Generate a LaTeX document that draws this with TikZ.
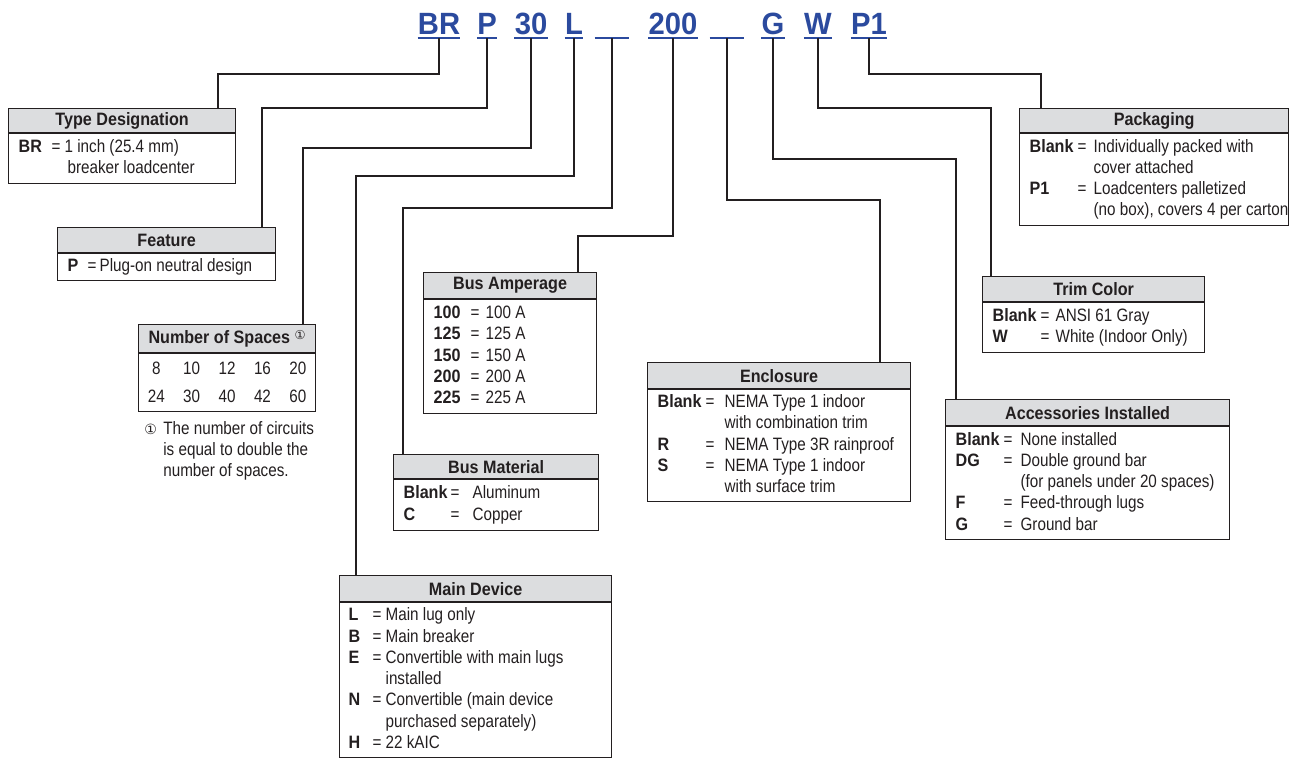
\documentclass[tikz,border=0pt]{standalone}
\usepackage{fontspec}
\setmainfont{Liberation Sans}[FakeStretch=0.85, BoldFeatures={FakeStretch=0.90}]
\newfontfamily\codefont{Liberation Sans}[FakeStretch=0.95]
\newfontfamily\symfont{DejaVu Sans}
\usepackage{array}
\definecolor{codeblue}{HTML}{2B4A9E}
\definecolor{headgray}{HTML}{DCDDDF}
\definecolor{ink}{HTML}{231F20}
\newcommand{\optlist}[3]{{\spaceskip=0pt\xspaceskip=0pt\setlength{\tabcolsep}{0pt}\begin{tabular}{@{}>{\bfseries}p{#1}@{}p{#2}@{}l@{}}#3\end{tabular}}}
\begin{document}
\begin{tikzpicture}[
  font=\fontsize{10.2}{12.1}\selectfont, text=ink,
  code/.style={font=\codefont\fontsize{17.5}{20}\selectfont\bfseries, text=codeblue, inner xsep=0pt, inner ysep=0.06cm, text depth=0pt, anchor=south},
  uline/.style={draw=codeblue, line width=1.1pt},
  lead/.style={draw=ink, line width=1.1pt},
  head/.style={draw=ink, line width=0.7pt, fill=headgray, anchor=north west, inner sep=0pt, font=\fontsize{10.2}{12.1}\selectfont\bfseries},
  body/.style={draw=ink, line width=0.7pt, anchor=north west, inner xsep=0.2cm, inner ysep=0pt, align=left}
]
                        \useasboundingbox (0,0) rectangle (25.960000,15.160000);
                        
                        % Marking the catalog code letters
                        \node (cBR) at (8.780000,14.400000) [code] {BR};%
                        \node (cP) at (9.740000,14.400000) [code] {P};%
                        \node (c30) at (10.620000,14.400000) [code] {30};%
                        \node (cL) at (11.480000,14.400000) [code] {L};%
                        \node (cBlankA) at (12.240000,14.400000) [code, minimum width=0.68cm] {};%
                        \node (c200) at (13.460000,14.400000) [code] {200};%
                        \node (cBlankB) at (14.540000,14.400000) [code, minimum width=0.68cm] {};%
                        \node (cG) at (15.460000,14.400000) [code] {G};%
                        \node (cW) at (16.360000,14.400000) [code] {W};%
                        \node (cP1) at (17.380000,14.400000) [code] {P1};%
                        
                        % Underlining the code letters
                        \draw [uline] (cBR.south west) -- (cBR.south east);%
                        \draw [uline] (cP.south west) -- (cP.south east);%
                        \draw [uline] (c30.south west) -- (c30.south east);%
                        \draw [uline] (cL.south west) -- (cL.south east);%
                        \draw [uline] (cBlankA.south west) -- (cBlankA.south east);%
                        \draw [uline] (c200.south west) -- (c200.south east);%
                        \draw [uline] (cBlankB.south west) -- (cBlankB.south east);%
                        \draw [uline] (cG.south west) -- (cG.south east);%
                        \draw [uline] (cW.south west) -- (cW.south east);%
                        \draw [uline] (cP1.south west) -- (cP1.south east);%
                        
                        % Drawing box Type Designation
                        \node (tdhead) at (0.160000,13.000000) [head, minimum width=4.54cm, minimum height=0.48cm] {Type Designation};%
                        \node (tdbody) at (tdhead.south west) [body, text width=4.14cm, minimum height=1.00cm] {\optlist{0.66cm}{0.26cm}{BR & = & 1 inch (25.4 mm)\\ & & \hspace{0.06cm}breaker loadcenter}};%
                        
                        % Drawing box Feature
                        \node (fthead) at (1.140000,10.620000) [head, minimum width=4.36cm, minimum height=0.50cm] {Feature};%
                        \node (ftbody) at (fthead.south west) [body, text width=3.96cm, minimum height=0.54cm] {\optlist{0.40cm}{0.24cm}{P & = & Plug-on neutral design}};%
                        
                        % Drawing box Number of Spaces
                        \node (nshead) at (2.760000,8.680000) [head, minimum width=3.54cm, minimum height=0.56cm] {Number of Spaces \raisebox{0.35ex}{\symfont\mdseries\fontsize{7}{8}\selectfont ①}};%
                        \node (nsbody) at (nshead.south west) [body, inner xsep=0pt, text width=3.54cm, minimum height=1.08cm] {{\setlength{\tabcolsep}{0pt}\renewcommand{\arraystretch}{1.36}\begin{tabular}{@{}*{5}{>{\centering\arraybackslash}p{0.708cm}}@{}}8 & 10 & 12 & 16 & 20\\ 24 & 30 & 40 & 42 & 60\end{tabular}}};%
                        \node (nsnote) at (2.880000,6.780000) [anchor=north west, inner sep=0pt, align=left] {{\setlength{\tabcolsep}{0pt}\begin{tabular}{@{}p{0.38cm}@{}l@{}}{\symfont\fontsize{8}{9}\selectfont ①} & The number of circuits\\ & is equal to double the\\ & number of spaces.\end{tabular}}};%
                        
                        % Drawing box Bus Amperage
                        \node (bahead) at (8.460000,9.720000) [head, minimum width=3.46cm, minimum height=0.52cm] {Bus Amperage};%
                        \node (babody) at (bahead.south west) [body, text width=3.06cm, minimum height=2.28cm] {\optlist{0.74cm}{0.30cm}{100 & = & 100 A\\ 125 & = & 125 A\\ 150 & = & 150 A\\ 200 & = & 200 A\\ 225 & = & 225 A}};%
                        
                        % Drawing box Bus Material
                        \node (bmhead) at (7.860000,6.080000) [head, minimum width=4.10cm, minimum height=0.48cm] {Bus Material};%
                        \node (bmbody) at (bmhead.south west) [body, text width=3.70cm, minimum height=1.02cm] {\optlist{0.94cm}{0.44cm}{Blank & = & Aluminum\\ C & = & Copper}};%
                        
                        % Drawing box Main Device
                        \node (mdhead) at (6.780000,3.660000) [head, minimum width=5.44cm, minimum height=0.52cm] {Main Device};%
                        \node (mdbody) at (mdhead.south west) [body, inner xsep=0.18cm, text width=5.08cm, minimum height=3.10cm] {\optlist{0.48cm}{0.26cm}{L & = & Main lug only\\ B & = & Main breaker\\ E & = & Convertible with main lugs\\ & & installed\\ N & = & Convertible (main device\\ & & purchased separately)\\ H & = & 22 kAIC}};%
                        
                        % Drawing box Enclosure
                        \node (enhead) at (12.940000,7.920000) [head, minimum width=5.26cm, minimum height=0.52cm] {Enclosure};%
                        \node (enbody) at (enhead.south west) [body, text width=4.86cm, minimum height=2.24cm] {\optlist{0.96cm}{0.38cm}{Blank & = & NEMA Type 1 indoor\\ & & with combination trim\\ R & = & NEMA Type 3R rainproof\\ S & = & NEMA Type 1 indoor\\ & & with surface trim}};%
                        
                        % Drawing box Trim Color
                        \node (tchead) at (19.640000,9.640000) [head, minimum width=4.44cm, minimum height=0.50cm] {Trim Color};%
                        \node (tcbody) at (tchead.south west) [body, text width=4.04cm, minimum height=1.00cm] {\optlist{0.96cm}{0.30cm}{Blank & = & ANSI 61 Gray\\ W & = & White (Indoor Only)}};%
                        
                        % Drawing box Accessories Installed
                        \node (aihead) at (18.900000,7.180000) [head, minimum width=5.68cm, minimum height=0.52cm] {Accessories Installed};%
                        \node (aibody) at (aihead.south west) [body, text width=5.28cm, minimum height=2.26cm] {\optlist{0.96cm}{0.34cm}{Blank & = & None installed\\ DG & = & Double ground bar\\ & & (for panels under 20 spaces)\\ F & = & Feed-through lugs\\ G & = & Ground bar}};%
                        
                        % Drawing box Packaging
                        \node (pkhead) at (20.380000,13.000000) [head, minimum width=5.38cm, minimum height=0.48cm] {Packaging};%
                        \node (pkbody) at (pkhead.south west) [body, text width=4.98cm, minimum height=1.84cm] {\optlist{0.96cm}{0.32cm}{Blank & = & Individually packed with\\ & & cover attached\\ P1 & = & Loadcenters palletized\\ & & (no box), covers 4 per carton}};%
                        
                        % Drawing leaders from code letters to boxes
                        \draw [lead] (cBR.south) |- (4.360000,13.680000) -- (tdhead.north -| 4.360000,0);%
                        \draw [lead] (cP.south) |- (5.240000,13.000000) -- (fthead.north -| 5.240000,0);%
                        \draw [lead] (c30.south) |- (6.060000,12.200000) -- (nshead.north -| 6.060000,0);%
                        \draw [lead] (cL.south) |- (7.120000,11.640000) -- (mdhead.north -| 7.120000,0);%
                        \draw [lead] (cBlankA.south) |- (8.060000,11.000000) -- (bmhead.north -| 8.060000,0);%
                        \draw [lead] (c200.south) |- (11.560000,10.440000) -- (bahead.north -| 11.560000,0);%
                        \draw [lead] (cBlankB.south) |- (17.600000,11.160000) -- (enhead.north -| 17.600000,0);%
                        \draw [lead] (cG.south) |- (19.120000,11.980000) -- (aihead.north -| 19.120000,0);%
                        \draw [lead] (cW.south) |- (19.820000,13.000000) -- (tchead.north -| 19.820000,0);%
                        \draw [lead] (cP1.south) |- (20.820000,13.680000) -- (pkhead.north -| 20.820000,0);%
\end{tikzpicture}
\end{document}
